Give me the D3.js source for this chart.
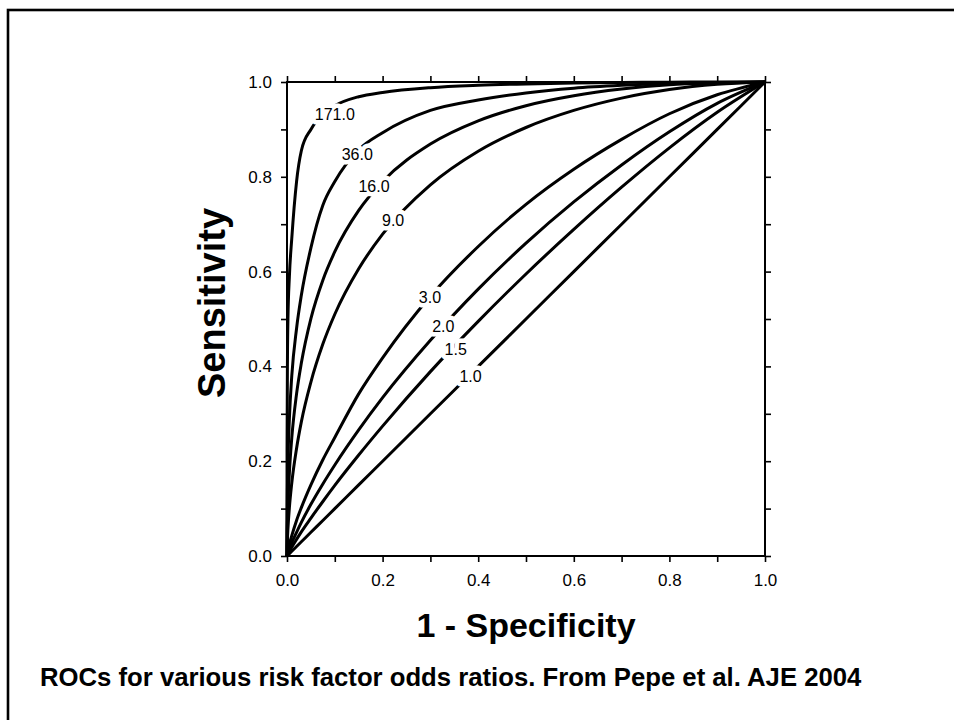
<!DOCTYPE html>
<html>
<head>
<meta charset="utf-8">
<script src="https://cdn.jsdelivr.net/npm/d3@7"></script>
<style>
  body { margin: 0; background: #fff; }
  svg { display: block; }
  text { font-family: "Liberation Sans", Arial, Helvetica, sans-serif; fill: #000; }
</style>
</head>
<body>
<svg id="chart" width="954" height="720"></svg>
<script>
// False positive rate (1 - specificity) at which each ROC curve is sampled
const fpr = [0, 0.0001, 0.001, 0.002, 0.005, 0.01, 0.02, 0.03, 0.05, 0.075, 0.1, 0.15, 0.2, 0.3, 0.4, 0.5, 0.6, 0.7, 0.8, 0.9, 1];

// Sensitivity for each odds ratio, one value per fpr entry
const tprOR1_0   = [0, 0.0001, 0.001, 0.002, 0.005, 0.01, 0.02, 0.03, 0.05, 0.075, 0.1, 0.15, 0.2, 0.3, 0.4, 0.5, 0.6, 0.7, 0.8, 0.9, 1];
const tprOR1_5   = [0, 0.0003, 0.0022, 0.0042, 0.0098, 0.0185, 0.035, 0.051, 0.080, 0.115, 0.149, 0.213, 0.274, 0.389, 0.495, 0.595, 0.689, 0.778, 0.861, 0.936, 1];
const tprOR2_0   = [0, 0.0005, 0.0037, 0.0068, 0.0152, 0.028, 0.050, 0.071, 0.109, 0.152, 0.192, 0.266, 0.334, 0.455, 0.563, 0.660, 0.747, 0.825, 0.895, 0.955, 1];
const tprOR3_0   = [0, 0.001, 0.007, 0.012, 0.025, 0.043, 0.075, 0.102, 0.150, 0.203, 0.250, 0.342, 0.418, 0.548, 0.653, 0.742, 0.816, 0.879, 0.933, 0.973, 1];
const tprOR9_0   = [0, 0.008, 0.037, 0.058, 0.102, 0.154, 0.227, 0.283, 0.367, 0.447, 0.510, 0.606, 0.679, 0.783, 0.854, 0.904, 0.940, 0.966, 0.984, 0.995, 1];
const tprOR16_0  = [0, 0.019, 0.075, 0.109, 0.176, 0.249, 0.342, 0.407, 0.501, 0.582, 0.642, 0.729, 0.790, 0.869, 0.918, 0.950, 0.971, 0.985, 0.994, 0.998, 1];
const tprOR36_0  = [0, 0.05, 0.15, 0.20, 0.29, 0.38, 0.48, 0.55, 0.65, 0.74, 0.79, 0.857, 0.893, 0.940, 0.962, 0.977, 0.987, 0.993, 0.997, 0.999, 1];
const tprOR171_0 = [0, 0.22, 0.42, 0.50, 0.59, 0.67, 0.79, 0.855, 0.90, 0.932, 0.950, 0.969, 0.978, 0.988, 0.993, 0.996, 0.998, 0.999, 0.9995, 1, 1];

// Odds-ratio labels and the (fpr, sensitivity) spot where each sits on its curve
const orLabels = ["1.0", "1.5", "2.0", "3.0", "9.0", "16.0", "36.0", "171.0"];
const labelFpr = [0.384, 0.353, 0.327, 0.299, 0.222, 0.182, 0.147, 0.100];
const labelTpr = [0.379, 0.437, 0.485, 0.546, 0.709, 0.781, 0.848, 0.933];

// Axis ticks
const majorTicks = [0, 0.2, 0.4, 0.6, 0.8, 1.0];
const minorTicks = [0.1, 0.3, 0.5, 0.7, 0.9];

const curves = [tprOR1_0, tprOR1_5, tprOR2_0, tprOR3_0, tprOR9_0, tprOR16_0, tprOR36_0, tprOR171_0];

const svg = d3.select("#chart");

// Outer frame of the slide
svg.append("rect")
  .attr("x", 8).attr("y", 10)
  .attr("width", 2000).attr("height", 2000)
  .attr("fill", "none").attr("stroke", "#000").attr("stroke-width", 2.6);

const x = d3.scaleLinear().domain([0, 1]).range([287, 765]);
const y = d3.scaleLinear().domain([0, 1]).range([556, 82]);

const fmt = d3.format(".1f");
const tickLen = 6;

function styleAxis(g) {
  g.select(".domain").remove();
  g.selectAll(".tick line").attr("stroke", "#000").attr("stroke-width", 1.6);
  g.selectAll(".tick text")
    .style("font-size", "17px")
    .style("font-family", '"Liberation Sans", Arial, sans-serif')
    .attr("fill", "#000");
}

// Bottom axis
svg.append("g").attr("transform", `translate(0,${y(0)})`)
  .call(d3.axisBottom(x).tickValues(majorTicks).tickFormat(fmt).tickSize(tickLen).tickPadding(12))
  .call(styleAxis);
svg.append("g").attr("transform", `translate(0,${y(0)})`)
  .call(d3.axisBottom(x).tickValues(minorTicks).tickFormat("").tickSize(tickLen))
  .call(styleAxis);

// Left axis
svg.append("g").attr("transform", `translate(${x(0)},0)`)
  .call(d3.axisLeft(y).tickValues(majorTicks).tickFormat(fmt).tickSize(tickLen).tickPadding(9))
  .call(styleAxis);
svg.append("g").attr("transform", `translate(${x(0)},0)`)
  .call(d3.axisLeft(y).tickValues(minorTicks).tickFormat("").tickSize(tickLen))
  .call(styleAxis);

// Top and right axes: ticks only
svg.append("g").attr("transform", `translate(0,${y(1)})`)
  .call(d3.axisTop(x).tickValues(majorTicks.concat(minorTicks)).tickFormat("").tickSize(tickLen))
  .call(styleAxis);
svg.append("g").attr("transform", `translate(${x(1)},0)`)
  .call(d3.axisRight(y).tickValues(majorTicks.concat(minorTicks)).tickFormat("").tickSize(tickLen))
  .call(styleAxis);

// Plot box
svg.append("rect")
  .attr("x", x(0)).attr("y", y(1))
  .attr("width", x(1) - x(0)).attr("height", y(0) - y(1))
  .attr("fill", "none").attr("stroke", "#000").attr("stroke-width", 2);

// ROC curves
const line = d3.line()
  .x(d => x(d[0]))
  .y(d => y(d[1]))
  .curve(d3.curveMonotoneX);

svg.append("g")
  .selectAll("path")
  .data(curves)
  .join("path")
  .attr("d", tpr => line(fpr.map((f, i) => [f, tpr[i]])))
  .attr("fill", "none")
  .attr("stroke", "#000")
  .attr("stroke-width", 3)
  .attr("stroke-linejoin", "round");

// Odds-ratio labels, with a white halo that breaks the curve under them
svg.append("g")
  .selectAll("text")
  .data(orLabels)
  .join("text")
  .attr("x", (d, i) => x(labelFpr[i]))
  .attr("y", (d, i) => y(labelTpr[i]))
  .attr("dy", "0.36em")
  .attr("text-anchor", "middle")
  .style("font-size", "16px")
  .attr("stroke", "#fff")
  .attr("stroke-width", 9)
  .attr("stroke-linejoin", "round")
  .attr("paint-order", "stroke")
  .text(d => d);

// Axis titles
svg.append("text")
  .attr("transform", `translate(225,${(y(0) + y(1)) / 2 - 16}) rotate(-90)`)
  .attr("text-anchor", "middle")
  .style("font-size", "38px")
  .style("font-weight", "bold")
  .text("Sensitivity");

svg.append("text")
  .attr("x", (x(0) + x(1)) / 2)
  .attr("y", 637)
  .attr("text-anchor", "middle")
  .style("font-size", "34px")
  .style("font-weight", "bold")
  .text("1 - Specificity");

// Caption
svg.append("text")
  .attr("x", 40)
  .attr("y", 686)
  .style("font-size", "25.7px")
  .style("font-weight", "bold")
  .text("ROCs for various risk factor odds ratios. From Pepe et al. AJE 2004");
</script>
</body>
</html>
